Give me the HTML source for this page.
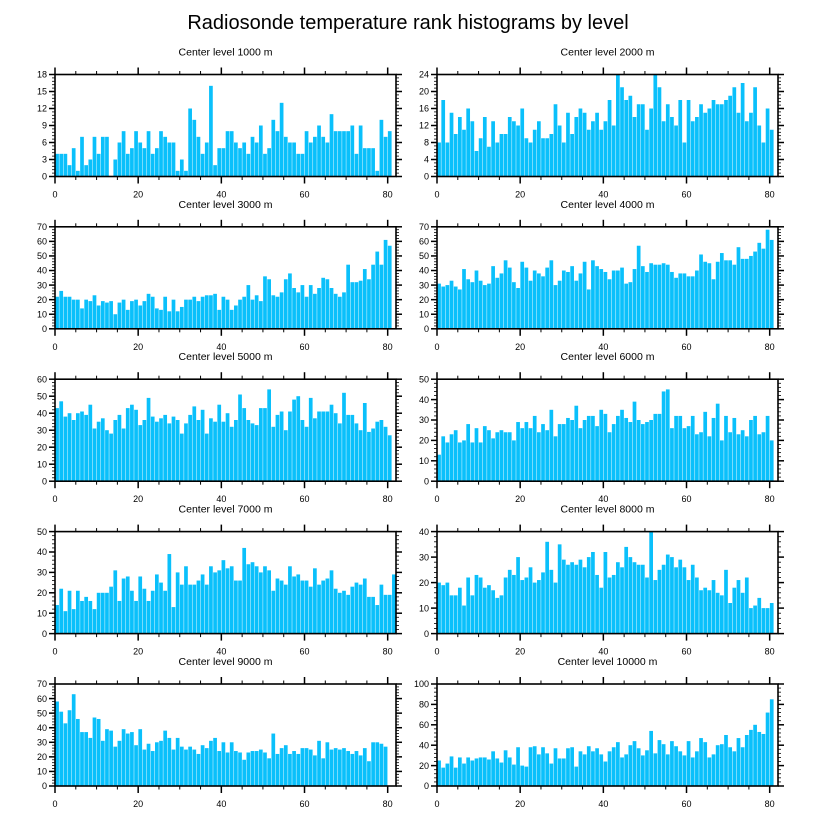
<!DOCTYPE html>
<html><head><meta charset="utf-8"><style>
body{margin:0;background:#fff;}
svg{display:block;font-family:"Liberation Sans",sans-serif;}
</style></head><body>
<svg id="chart" width="816" height="824" xmlns="http://www.w3.org/2000/svg">
<text x="408" y="29" font-size="20" text-anchor="middle">Radiosonde temperature rank histograms by level</text>
</svg>
<script>
const levels = ["1000","2000","3000","4000","5000","6000","7000","8000","9000","10000"];
const yMax = [18,24,70,70,60,50,50,40,70,100];
const yStep = [3,4,10,10,10,10,10,10,10,20];
const xTicks = [0,20,40,60,80];
const v1000 = [4,4,4,2,5,1,7,2,3,7,4,7,7,0,3,6,8,4,5,8,6,5,8,4,5,8,7,6,6,1,3,1,12,10,7,4,6,16,2,5,5,8,8,6,5,6,4,7,6,9,4,5,10,8,13,7,6,6,4,4,8,6,7,9,7,6,11,8,8,8,8,9,4,9,5,5,5,1,10,7,8];
const v2000 = [8,18,8,15,10,14,11,16,13,6,9,14,7,13,8,10,10,14,13,12,16,9,8,11,13,9,9,10,17,12,8,15,10,14,16,15,11,13,15,11,13,18,12,24,21,18,19,14,17,17,11,16,24,21,13,17,14,12,18,8,18,13,14,17,15,16,18,17,17,18,19,21,15,22,13,15,21,12,8,16,11];
const v3000 = [22,26,22,22,20,20,14,20,19,23,16,19,18,19,10,18,20,13,19,20,16,19,24,22,14,13,22,12,20,12,15,20,20,22,19,22,23,23,24,13,22,20,13,16,20,22,30,20,23,19,36,34,23,22,25,34,38,28,25,30,22,30,24,28,35,34,28,24,22,25,44,32,32,33,41,34,44,53,44,61,57];
const v4000 = [31,29,30,33,29,27,41,34,32,40,33,30,31,43,35,38,47,42,32,28,46,42,33,40,38,36,42,47,30,33,40,39,43,33,38,46,27,47,43,41,39,34,40,40,42,31,32,41,57,43,39,45,44,44,45,44,39,35,38,38,36,36,40,51,46,45,34,46,52,47,47,44,56,48,48,50,53,59,55,68,61];
const v5000 = [43,47,38,40,36,40,41,39,45,31,35,37,30,28,36,39,31,43,45,42,33,36,49,38,35,37,39,34,38,36,28,34,39,44,36,42,28,37,35,45,35,40,32,36,51,43,36,34,33,43,43,54,32,39,41,30,41,48,50,36,32,49,37,41,41,41,45,40,34,52,39,39,34,30,46,29,31,35,36,32,27];
const v6000 = [13,22,19,23,25,19,20,28,19,26,19,27,25,21,24,25,24,24,20,29,26,29,26,32,24,28,25,35,22,28,28,31,30,37,26,30,32,32,27,35,33,24,28,32,35,31,29,39,30,28,29,30,33,33,44,45,26,32,32,26,27,32,23,24,34,22,31,38,20,32,24,31,23,25,22,30,32,23,24,32,20];
const v7000 = [14,22,11,21,12,21,16,18,16,12,20,20,20,23,31,16,27,28,21,16,28,22,16,21,29,25,21,39,13,30,24,33,24,24,26,29,24,33,30,31,36,32,33,26,26,42,34,35,33,30,33,31,21,27,26,24,33,28,29,26,26,23,32,24,26,27,31,22,20,21,19,23,25,24,27,18,18,14,24,19,19,29];
const v8000 = [20,19,20,15,15,18,11,22,15,23,22,18,19,17,14,15,22,25,23,30,21,22,26,20,21,24,36,25,20,35,29,27,28,27,29,26,30,32,23,18,32,22,23,28,26,34,30,28,27,27,22,40,21,25,27,31,30,26,29,26,21,27,22,17,18,17,21,16,15,25,12,18,21,16,22,10,11,14,10,10,12];
const v9000 = [58,51,43,52,63,46,37,37,33,47,46,31,39,38,27,31,39,36,37,28,39,25,29,24,30,31,38,33,25,33,27,25,27,25,22,28,26,31,33,24,30,23,30,24,23,18,23,24,24,25,23,19,36,22,26,28,22,24,22,26,26,25,21,31,19,30,25,26,25,26,24,22,24,21,26,17,30,30,29,27];
const v10000 = [25,18,22,29,18,28,22,28,25,27,28,28,26,34,27,23,35,28,21,38,20,19,38,39,31,38,32,22,37,27,27,37,38,19,34,31,39,34,37,31,24,34,38,43,28,31,40,44,37,30,35,54,32,45,41,31,44,39,34,30,44,28,34,47,43,28,31,40,41,50,38,34,47,38,50,55,60,53,51,72,85];
const series = [v1000,v2000,v3000,v4000,v5000,v6000,v7000,v8000,v9000,v10000];

const NS = "http://www.w3.org/2000/svg";
const svg = document.getElementById("chart");
function mk(tag, attrs, parent){
  const e = document.createElementNS(NS, tag);
  for (const k in attrs) e.setAttribute(k, attrs[k]);
  parent.appendChild(e);
  return e;
}
const colX = [55, 437];
const PW = 341, PH = 102;
const rowTop = [74.5, 226.8, 379.2, 531.6, 684];
const XMAX = 82;

series.forEach((vals, p) => {
  const col = p % 2, row = Math.floor(p / 2);
  const x0 = colX[col], y0 = rowTop[row];
  const g = mk("g", {}, svg);
  
  
  const xs = v => x0 + v / XMAX * PW;
  const ys = v => y0 + PH - v / yMax[p] * PH;
  const t = mk("text", {x: x0 + PW/2, y: y0 - 19, "font-size": 10.5, "text-anchor": "middle"}, g);
  t.textContent = "Center level " + levels[p] + " m";
  
  
  vals.forEach((v, i) => {
    if (v <= 0) return;
    const r = mk("rect", {x: xs(i) + 0.2, y: ys(v), width: Math.max(0.5, xs(i+1) - xs(i) - 0.45), height: ys(0) - ys(v), fill: "#0ac0fb"}, g);
    
    
  });
  const box = mk("rect", {x: x0, y: y0, width: PW, height: PH, fill: "none", stroke: "#000", "stroke-width": 1.6}, g);
  
  
  for (let k = 0; k <= XMAX; k += 5) {
    const major = k % 20 === 0;
    const L = major ? 7 : 3.5;
    mk("line", {x1: xs(k), x2: xs(k), y1: y0 + PH, y2: y0 + PH + L, stroke: "#000", "stroke-width": major ? 1.5 : 1}, g);
    mk("line", {x1: xs(k), x2: xs(k), y1: y0, y2: y0 - L, stroke: "#000", "stroke-width": major ? 1.5 : 1}, g);
  }
  xTicks.forEach(k => {
    const tl = mk("text", {x: xs(k), y: y0 + PH + 21, "font-size": 9, "text-anchor": "middle"}, g);
    tl.textContent = k;
    
    
  });
  const minor = yStep[p] / 5;
  for (let k = 0; k <= yMax[p] + 1e-9; k += minor) {
    const kk = Math.round(k * 1000) / 1000;
    const major = Math.abs(kk / yStep[p] - Math.round(kk / yStep[p])) < 1e-6;
    const L = major ? 6 : 3;
    mk("line", {x1: x0, x2: x0 - L, y1: ys(kk), y2: ys(kk), stroke: "#000", "stroke-width": major ? 1.5 : 0.8}, g);
    mk("line", {x1: x0 + PW, x2: x0 + PW + L, y1: ys(kk), y2: ys(kk), stroke: "#000", "stroke-width": major ? 1.5 : 0.8}, g);
    if (major) {
      const yl = mk("text", {x: x0 - 8, y: ys(kk) + 3.2, "font-size": 9, "text-anchor": "end"}, g);
      yl.textContent = kk;
      
      
    }
  }
});
</script>
</body></html>
